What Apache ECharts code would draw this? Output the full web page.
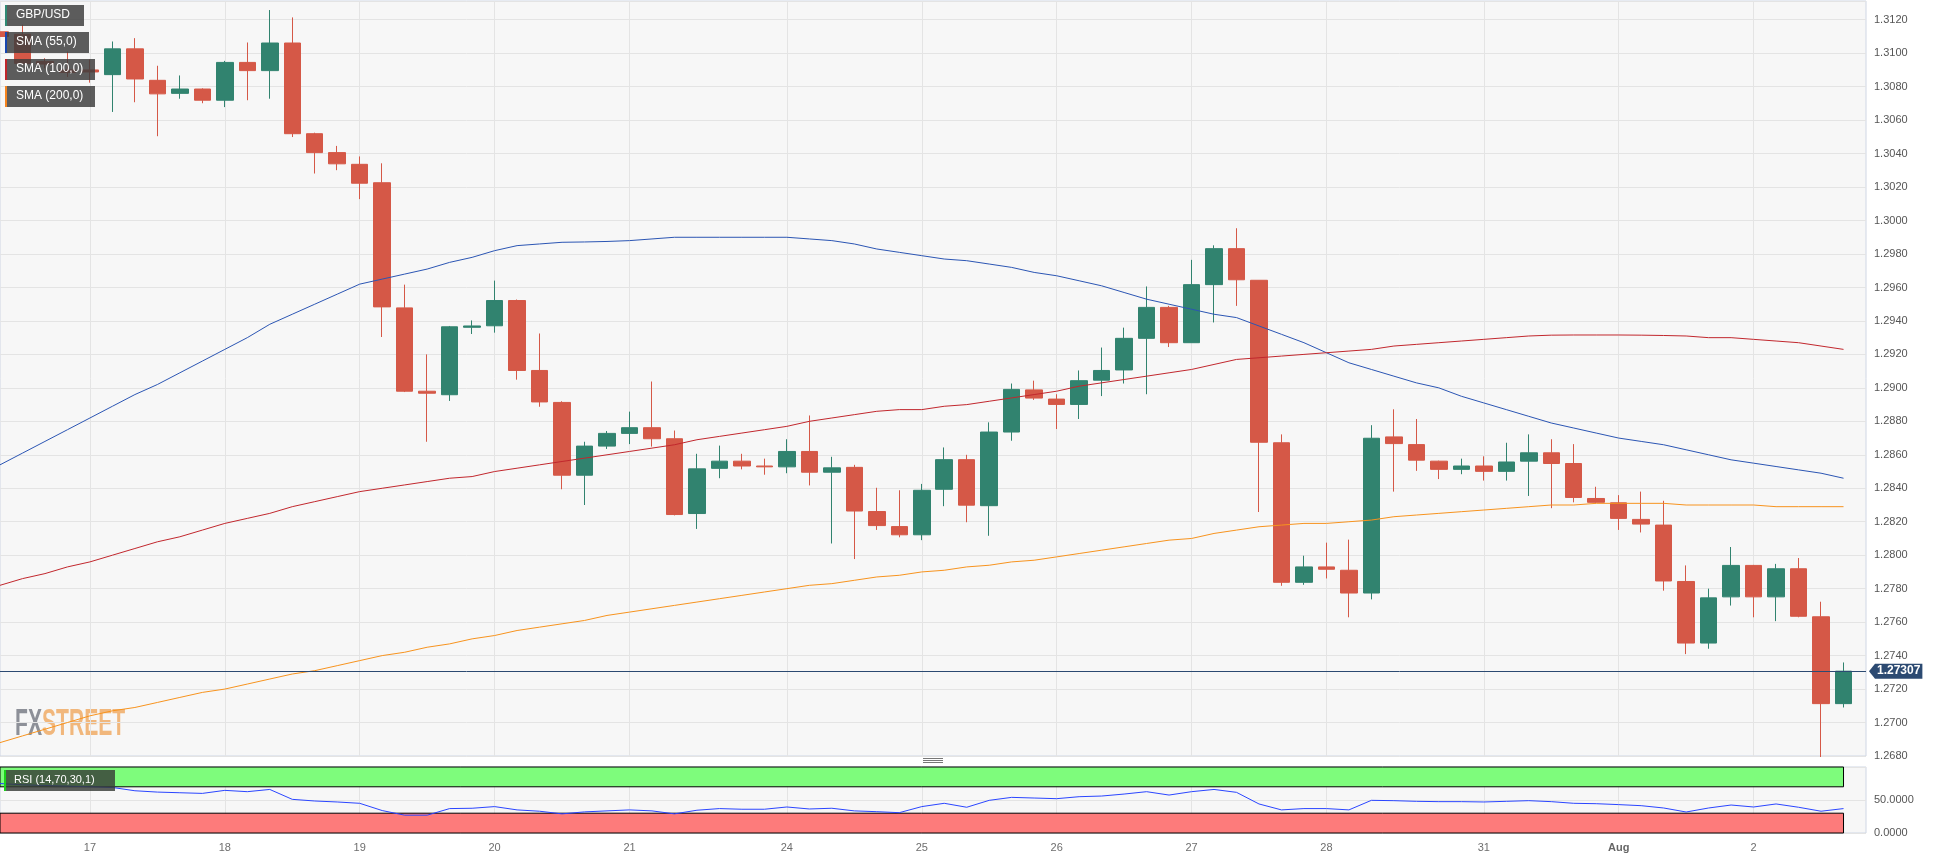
<!DOCTYPE html>
<html>
<head>
<meta charset="utf-8">
<title>GBP/USD</title>
<script src="https://cdn.jsdelivr.net/npm/echarts@6.0.0/dist/echarts.min.js"></script>
<style>
  html, body { margin: 0; padding: 0; background: #fff; }
  #chart { width: 1937px; height: 860px; }
</style>
</head>
<body>
<div id="chart"></div>
<script>
// 4H candles, Jul 17 - Aug 2 (the first four are cut by the left edge / legend)
const opens = [
  1.31128, 1.31113, 1.30950, 1.30900, 1.30900, 1.30872, 1.31026, 1.30838, 1.30760, 1.30786,
  1.30719, 1.30945, 1.30896, 1.31061, 1.30519, 1.30406, 1.30336, 1.30226, 1.29478, 1.28980,
  1.28959, 1.29362, 1.29371, 1.29522, 1.29104, 1.28913, 1.28478, 1.28652, 1.28728, 1.28762,
  1.28696, 1.28249, 1.28519, 1.28562, 1.28533, 1.28528, 1.28620, 1.28496, 1.28525, 1.28261,
  1.28171, 1.28122, 1.28394, 1.28571, 1.28296, 1.28736, 1.28988, 1.28933, 1.28901, 1.29046,
  1.29107, 1.29296, 1.29481, 1.29270, 1.29617, 1.29832, 1.29643, 1.28672, 1.27838, 1.27930,
  1.27910, 1.27774, 1.28707, 1.28661, 1.28562, 1.28513, 1.28533, 1.28501, 1.28562, 1.28612,
  1.28548, 1.28339, 1.28313, 1.28214, 1.28180, 1.27843, 1.27475, 1.27751, 1.27939, 1.27751,
  1.27919, 1.27632, 1.27113
];
const closes = [
  1.31100, 1.30939, 1.30935, 1.30885, 1.30888, 1.31026, 1.30846, 1.30757, 1.30786, 1.30719,
  1.30945, 1.30896, 1.31061, 1.30519, 1.30406, 1.30339, 1.30223, 1.29484, 1.28980, 1.28968,
  1.29365, 1.29370, 1.29522, 1.29104, 1.28916, 1.28478, 1.28652, 1.28728, 1.28762, 1.28696,
  1.28243, 1.28516, 1.28562, 1.28533, 1.28528, 1.28620, 1.28496, 1.28522, 1.28264, 1.28177,
  1.28122, 1.28388, 1.28571, 1.28299, 1.28736, 1.28991, 1.28939, 1.28901, 1.29043, 1.29104,
  1.29296, 1.29481, 1.29270, 1.29617, 1.29832, 1.29646, 1.28675, 1.27838, 1.27930, 1.27916,
  1.27774, 1.28699, 1.28667, 1.28568, 1.28513, 1.28533, 1.28501, 1.28557, 1.28612, 1.28548,
  1.28345, 1.28316, 1.28220, 1.28186, 1.27846, 1.27475, 1.27745, 1.27939, 1.27751, 1.27919,
  1.27635, 1.27113, 1.27307
];
const lows = [
  1.30940, 1.30925, 1.30910, 1.30858, 1.30824, 1.30649, 1.30707, 1.30504, 1.30728, 1.30701,
  1.30678, 1.30719, 1.30728, 1.30499, 1.30281, 1.30301, 1.30128, 1.29304, 1.28975, 1.28678,
  1.28922, 1.29322, 1.29330, 1.29049, 1.28887, 1.28394, 1.28300, 1.28635, 1.28664, 1.28649,
  1.28238, 1.28157, 1.28460, 1.28513, 1.28481, 1.28490, 1.28417, 1.28070, 1.27977, 1.28151,
  1.28107, 1.28090, 1.28293, 1.28197, 1.28116, 1.28684, 1.28928, 1.28754, 1.28814, 1.28951,
  1.29026, 1.28962, 1.29244, 1.29270, 1.29391, 1.29490, 1.28258, 1.27817, 1.27823, 1.27861,
  1.27629, 1.27736, 1.28380, 1.28504, 1.28455, 1.28484, 1.28446, 1.28446, 1.28354, 1.28281,
  1.28316, 1.28310, 1.28151, 1.28136, 1.27788, 1.27409, 1.27441, 1.27699, 1.27629, 1.27606,
  1.27629, 1.26794, 1.27090
];
const highs = [
  1.31300, 1.31171, 1.30970, 1.31010, 1.30963, 1.31070, 1.31090, 1.30925, 1.30867, 1.30790,
  1.30954, 1.31064, 1.31258, 1.31214, 1.30525, 1.30446, 1.30383, 1.30342, 1.29617, 1.29200,
  1.29370, 1.29403, 1.29641, 1.29528, 1.29325, 1.28920, 1.28678, 1.28742, 1.28858, 1.29038,
  1.28745, 1.28606, 1.28655, 1.28606, 1.28577, 1.28693, 1.28835, 1.28588, 1.28540, 1.28403,
  1.28388, 1.28426, 1.28644, 1.28600, 1.28794, 1.29026, 1.29043, 1.28962, 1.29104, 1.29241,
  1.29360, 1.29606, 1.29490, 1.29765, 1.29852, 1.29954, 1.29643, 1.28722, 1.27997, 1.28075,
  1.28093, 1.28777, 1.28872, 1.28814, 1.28565, 1.28577, 1.28591, 1.28672, 1.28722, 1.28693,
  1.28664, 1.28409, 1.28359, 1.28380, 1.28325, 1.27939, 1.27800, 1.28049, 1.27942, 1.27948,
  1.27983, 1.27722, 1.27359
];

const sma55 = [
  1.2854, 1.2861, 1.2868, 1.2875, 1.2882, 1.2889, 1.2896, 1.2902, 1.2909, 1.2916,
  1.2923, 1.2930, 1.2938, 1.2944, 1.2950, 1.2956, 1.2962, 1.2965, 1.2968, 1.2971,
  1.2975, 1.2978, 1.2982, 1.2985, 1.2986, 1.2987, 1.29872, 1.29875, 1.2988, 1.2989,
  1.2990, 1.2990, 1.2990, 1.2990, 1.2990, 1.2990, 1.2989, 1.2988, 1.2986, 1.2983,
  1.2981, 1.2979, 1.2977, 1.2976, 1.2974, 1.2972, 1.2969, 1.2967, 1.2964, 1.2961,
  1.2957, 1.2953, 1.2950, 1.2947, 1.2944, 1.2942, 1.2937, 1.2932, 1.2927, 1.2921,
  1.2915, 1.2911, 1.2907, 1.2903, 1.2900, 1.2895, 1.2891, 1.2887, 1.2883, 1.2879,
  1.2876, 1.2873, 1.2870, 1.2868, 1.2866, 1.2863, 1.2860, 1.2857, 1.2855, 1.2853,
  1.2851, 1.2849, 1.2846
];
const sma100 = [
  1.2782, 1.2786, 1.2789, 1.2793, 1.2796, 1.2800, 1.2804, 1.2808, 1.2811, 1.2815,
  1.2819, 1.2822, 1.2825, 1.2829, 1.2832, 1.2835, 1.2838, 1.2840, 1.2842, 1.2844,
  1.2846, 1.2847, 1.2850, 1.2852, 1.2854, 1.2856, 1.2858, 1.2860, 1.2862, 1.2864,
  1.2866, 1.2869, 1.2871, 1.2873, 1.2875, 1.2877, 1.2880, 1.2882, 1.2884, 1.2886,
  1.2887, 1.2887, 1.2889, 1.2890, 1.2892, 1.2894, 1.2896, 1.2898, 1.2901, 1.2903,
  1.2905, 1.2907, 1.2909, 1.2911, 1.2914, 1.2917, 1.2918, 1.2919, 1.2920, 1.2921,
  1.2922, 1.2923, 1.2925, 1.2926, 1.2927, 1.2928, 1.2929, 1.2930, 1.2931, 1.29315,
  1.29316, 1.29316, 1.29316, 1.29315, 1.29313, 1.2931, 1.2930, 1.2930, 1.2929, 1.2928,
  1.2927, 1.2925, 1.2923
];
const sma200 = [
  1.2688, 1.2692, 1.2696, 1.2700, 1.2704, 1.2707, 1.2709, 1.2712, 1.2715, 1.2718,
  1.2720, 1.2723, 1.2726, 1.2729, 1.2731, 1.2734, 1.2737, 1.2740, 1.2742, 1.2745,
  1.2747, 1.2750, 1.2752, 1.2755, 1.2757, 1.2759, 1.2761, 1.2764, 1.2766, 1.2768,
  1.2770, 1.2772, 1.2774, 1.2776, 1.2778, 1.2780, 1.2782, 1.2783, 1.2785, 1.2787,
  1.2788, 1.2790, 1.2791, 1.2793, 1.2794, 1.2796, 1.2797, 1.2799, 1.2801, 1.2803,
  1.2805, 1.2807, 1.2809, 1.2810, 1.2813, 1.2815, 1.2817, 1.2818, 1.2819, 1.2819,
  1.2820, 1.2821, 1.2823, 1.2824, 1.2825, 1.2826, 1.2827, 1.2828, 1.2829, 1.2830,
  1.2830, 1.2831, 1.2831, 1.2831, 1.2831, 1.2830, 1.2830, 1.2830, 1.2830, 1.2829,
  1.2829, 1.2829, 1.2829
];
const rsi = [
  75, 73, 72, 71, 70, 69, 64, 62, 61, 60,
  64.6, 62.6, 66, 51, 48.5, 47, 45, 34, 27, 27,
  37, 37.5, 40, 35, 33, 29, 32, 33.5, 35, 33.5,
  29, 34.5, 37, 36, 36, 39.4, 36.4, 37.5, 33.5, 32.3,
  30.8, 40, 45, 39, 49.5, 54, 53, 52, 55, 56,
  59, 62.6, 57.5, 62.6, 66, 61.6, 44, 35, 37, 37,
  35, 49.5, 49, 48, 47.5, 47.5, 47, 48, 49, 47.5,
  45, 44.4, 43, 41.4, 37.9, 31.8, 37.9, 42.4, 39.4, 44,
  39, 33, 37
];

// day labels and the candle index where each day starts
const dayLabels = ['17', '18', '19', '20', '21', '24', '25', '26', '27', '28', '31', 'Aug', '2'];
const dayStarts = [4, 10, 16, 22, 28, 35, 41, 47, 53, 59, 66, 72, 78];

const lastClose = closes[closes.length - 1];
const candleCount = opens.length;
// one empty slot on the right so the last candle sits inside the plot
const categories = Array.from({ length: candleCount + 1 }, (_, i) => String(i));
const candleData = opens.map((o, i) => [o, closes[i], lows[i], highs[i]]);
const labelAt = {};
dayStarts.forEach((idx, j) => { labelAt[idx] = dayLabels[j]; });
const isDayStart = (i) => labelAt[i] !== undefined;

const UP = '#31836f';
const DOWN = '#d55847';
const TAG = '#2c4a72';
const FONT = '"Liberation Sans", Arial, sans-serif';

const chart = echarts.init(document.getElementById('chart'));

const legendBox = (id, y, w, label, stripe) => ([
  { type: 'rect', id: id + '-bg', left: 6, top: y, z: 100,
    shape: { width: w, height: 21 }, style: { fill: 'rgba(62,62,62,0.84)' } },
  { type: 'rect', id: id + '-stripe', left: 5, top: y, z: 101,
    shape: { width: 2, height: 21 }, style: { fill: stripe } },
  { type: 'text', id: id + '-txt', left: 16, top: y + 4, z: 102,
    style: { text: label, fill: '#fff', font: '12px ' + FONT } }
]);

const graphics = [
  ...legendBox('lg0', 5, 78, 'GBP/USD', '#2f8a74'),
  ...legendBox('lg1', 32, 83, 'SMA (55,0)', '#1846b0'),
  ...legendBox('lg2', 59, 89, 'SMA (100,0)', '#c0252b'),
  ...legendBox('lg3', 86, 89, 'SMA (200,0)', '#f5841f'),
  { type: 'rect', id: 'rsi-bg', left: 5, top: 770, z: 100,
    shape: { width: 110, height: 21 }, style: { fill: 'rgba(55,60,55,0.82)' } },
  { type: 'rect', id: 'rsi-stripe', left: 4, top: 770, z: 101,
    shape: { width: 2, height: 21 }, style: { fill: '#1ad21a' } },
  { type: 'text', id: 'rsi-txt', left: 14, top: 774, z: 102,
    style: { text: 'RSI (14,70,30,1)', fill: '#fff', font: '11px ' + FONT } },
  // watermark
  { type: 'text', id: 'wm', left: 15, top: 706, z: 0, scaleX: 0.57,
    style: {
      text: '{a|FX}{b|STREET}',
      rich: {
        a: { fill: '#8d9098', font: 'bold 37px ' + FONT },
        b: { fill: '#f1b77c', font: 'bold 37px ' + FONT }
      }
    } },
  // splitter handle between panels
  { type: 'group', id: 'handle', left: 923, top: 758, children: [
    { type: 'rect', shape: { x: 0, y: 0, width: 20, height: 1 }, style: { fill: '#777' } },
    { type: 'rect', shape: { x: 0, y: 2, width: 20, height: 1 }, style: { fill: '#777' } },
    { type: 'rect', shape: { x: 0, y: 4, width: 20, height: 1 }, style: { fill: '#777' } }
  ] }
];

const splitLineStyle = { color: '#e4e4e4', width: 1 };

const option = {
  animation: false,
  backgroundColor: '#ffffff',
  textStyle: { fontFamily: FONT },
  grid: [
    { left: 0, top: 1, width: 1866, height: 755, show: true,
      backgroundColor: '#f7f7f7', borderColor: '#cfd6e4', borderWidth: 1 },
    { left: 0, top: 767, width: 1866, height: 66, show: true,
      backgroundColor: '#f7f7f7', borderColor: '#cfd6e4', borderWidth: 1 }
  ],
  xAxis: [
    { type: 'category', gridIndex: 0, data: categories, boundaryGap: false,
      axisLine: { show: false }, axisTick: { show: false }, axisLabel: { show: false },
      splitLine: { show: true, interval: isDayStart, lineStyle: splitLineStyle } },
    { type: 'category', gridIndex: 1, data: categories, boundaryGap: false,
      axisLine: { show: false }, axisTick: { show: false },
      axisLabel: {
        interval: isDayStart, color: '#6e6e6e', fontSize: 11, margin: 9,
        formatter: (v, i) => (labelAt[i] === 'Aug' ? '{b|Aug}' : (labelAt[i] || '')),
        rich: { b: { fontWeight: 'bold', color: '#666', fontSize: 11 } }
      },
      splitLine: { show: true, interval: isDayStart, lineStyle: splitLineStyle } }
  ],
  yAxis: [
    { type: 'value', gridIndex: 0, position: 'right', min: 1.268, max: 1.31312, interval: 0.002,
      axisLine: { show: false }, axisTick: { show: false },
      axisLabel: { color: '#555', fontSize: 11, margin: 8, showMaxLabel: false,
        formatter: (v) => v.toFixed(4) },
      splitLine: { show: true, lineStyle: splitLineStyle } },
    { type: 'value', gridIndex: 1, position: 'right', min: 0, max: 100, interval: 50,
      axisLine: { show: false }, axisTick: { show: false },
      axisLabel: { color: '#555', fontSize: 11, margin: 8, showMaxLabel: false,
        formatter: (v) => v.toFixed(4) },
      splitLine: { show: true, lineStyle: splitLineStyle } }
  ],
  series: [
    {
      name: 'GBP/USD', type: 'candlestick', xAxisIndex: 0, yAxisIndex: 0,
      data: candleData, barWidth: 17,
      itemStyle: { color: UP, color0: DOWN, borderColor: UP, borderColor0: DOWN, borderWidth: 1 }
    },
    { name: 'SMA (55,0)', type: 'line', xAxisIndex: 0, yAxisIndex: 0, data: sma55,
      showSymbol: false, lineStyle: { color: '#2b55b3', width: 1 } },
    { name: 'SMA (100,0)', type: 'line', xAxisIndex: 0, yAxisIndex: 0, data: sma100,
      showSymbol: false, lineStyle: { color: '#c1272d', width: 1 } },
    { name: 'SMA (200,0)', type: 'line', xAxisIndex: 0, yAxisIndex: 0, data: sma200,
      showSymbol: false, lineStyle: { color: '#f7931e', width: 1 },
      // last price line and tag
      markLine: {
        silent: true, symbol: ['none', 'none'], precision: 5,
        lineStyle: { color: TAG, width: 1, type: 'solid' },
        label: {
          show: true, position: 'end', distance: 9,
          formatter: lastClose.toFixed(5),
          backgroundColor: TAG, color: '#fff', fontWeight: 'bold',
          fontSize: 12, padding: [2, 2, 1, 2]
        },
        data: [{ yAxis: lastClose }]
      } },
    {
      name: 'RSI', type: 'line', xAxisIndex: 1, yAxisIndex: 1, data: rsi,
      showSymbol: false, lineStyle: { color: '#2a45ff', width: 1 },
      markArea: {
        silent: true,
        data: [
          [{ xAxis: 0, yAxis: 70, itemStyle: { color: '#7efc7c', borderColor: '#000', borderWidth: 1 } },
           { xAxis: candleCount - 1, yAxis: 100 }],
          [{ xAxis: 0, yAxis: 0, itemStyle: { color: '#fd7b7b', borderColor: '#000', borderWidth: 1 } },
           { xAxis: candleCount - 1, yAxis: 30 }]
        ]
      }
    }
  ],
  graphic: graphics
};

chart.setOption(option);

// little arrow in front of the last-price tag
const tagY = chart.convertToPixel({ yAxisIndex: 0 }, lastClose);
const gridRight = chart.convertToPixel({ xAxisIndex: 0 }, candleCount);
chart.setOption({
  graphic: [{
    type: 'polygon', id: 'tag-arrow', z: 100,
    shape: { points: [[gridRight + 3, tagY], [gridRight + 9, tagY - 7.5], [gridRight + 9, tagY + 7.5]] },
    style: { fill: TAG }
  }]
});
</script>
</body>
</html>
